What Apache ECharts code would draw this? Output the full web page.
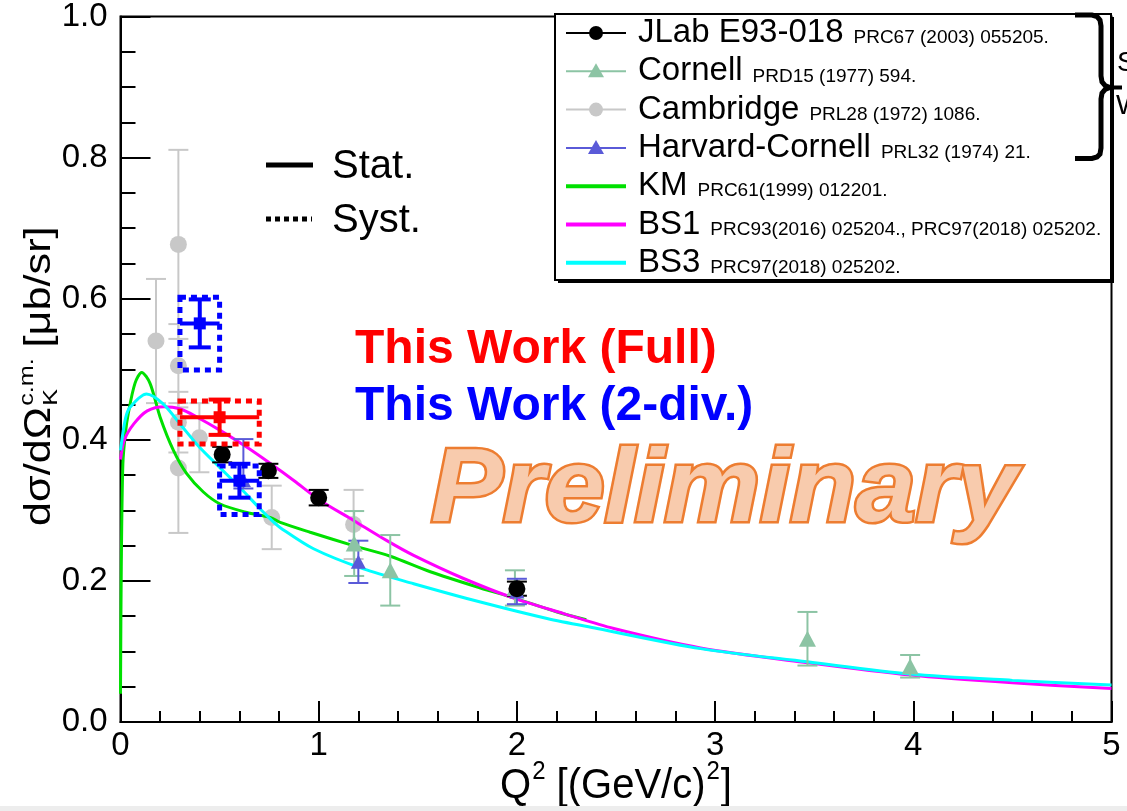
<!DOCTYPE html>
<html>
<head>
<meta charset="utf-8">
<script src="https://cdn.jsdelivr.net/npm/echarts@6/dist/echarts.min.js"></script>
<style>
  html, body { margin: 0; padding: 0; background: #ffffff; }
  #chart { width: 1127px; height: 811px; }
</style>
</head>
<body>
<div id="chart"></div>
<script>
// ---- axis tick labels ----
const xTickLabels = ['0', '1', '2', '3', '4', '5'];
const yTickLabels = ['0.0', '0.2', '0.4', '0.6', '0.8', '1.0'];

// ---- measured cross sections: Q^2, dsigma/dOmega, error up, error down ----
const jlabQ2 = [0.513, 0.746, 1.000, 2.000];
const jlabXs = [0.379, 0.356, 0.318, 0.189];
const jlabErr = [0.011, 0.010, 0.011, 0.010];

const cornellQ2 = [1.179, 1.361, 1.990, 3.466, 3.984];
const cornellXs = [0.253, 0.215, 0.190, 0.118, 0.079];
const cornellErr = [0.046, 0.050, 0.025, 0.038, 0.016];

const cambQ2 = [0.179, 0.292, 0.292, 0.292, 0.292, 0.398, 0.763, 1.176];
const cambXs = [0.540, 0.677, 0.505, 0.425, 0.360, 0.403, 0.290, 0.280];
const cambErr = [0.088, 0.134, 0.059, 0.043, 0.092, 0.049, 0.045, 0.049];

const hcQ2 = [0.620, 1.200, 2.000];
const hcXs = [0.343, 0.227, 0.185];
const hcErrUp = [0.058, 0.030, 0.018];
const hcErrDown = [0.012, 0.030, 0.018];

// ---- this work: Q^2, value, stat(Q^2), stat(y), syst up, syst down, syst half-width in Q^2 ----
const fullQ2 = [0.50];
const fullXs = [0.432];
const fullStatQ2 = [0.20];
const fullStatXs = [0.025];
const fullSysUp = [0.023];
const fullSysDown = [0.038];
const fullSysQ2 = [0.20];

const divQ2 = [0.40, 0.60];
const divXs = [0.565, 0.342];
const divStatQ2 = [0.10, 0.10];
const divStatXs = [0.034, 0.024];
const divSysUp = [0.037, 0.021];
const divSysDown = [0.066, 0.048];
const divSysQ2 = [0.10, 0.10];

// ---- model curves ----
const kmQ2 = [0.000, 0.004, 0.012, 0.025, 0.039, 0.073, 0.107, 0.149, 0.200, 0.267, 0.334, 0.418, 0.503, 0.637, 0.755, 0.806, 0.957, 1.175, 1.361, 1.563, 1.816, 1.984, 2.203, 2.350];
const kmXs = [0.040, 0.220, 0.366, 0.410, 0.437, 0.480, 0.4955, 0.480, 0.432, 0.385, 0.352, 0.326, 0.309, 0.297, 0.290, 0.283, 0.269, 0.250, 0.235, 0.213, 0.190, 0.176, 0.156, 0.145];

const bs1Q2 = [0.000, 0.020, 0.067, 0.135, 0.219, 0.303, 0.387, 0.505, 0.640, 0.758, 0.876, 1.008, 1.176, 1.344, 1.479, 1.731, 1.984, 2.236, 2.489, 2.927, 3.466, 3.984, 4.500, 5.000];
const bs1Xs = [0.372, 0.400, 0.4225, 0.441, 0.447, 0.4436, 0.432, 0.413, 0.389, 0.366, 0.342, 0.314, 0.2857, 0.2571, 0.2362, 0.2034, 0.1756, 0.1537, 0.1325, 0.105, 0.084, 0.0665, 0.0555, 0.0476];

const bs3Q2 = [0.000, 0.025, 0.048, 0.131, 0.215, 0.300, 0.400, 0.500, 0.600, 0.705, 0.770, 0.806, 0.974, 1.226, 1.479, 1.816, 2.152, 2.405, 2.927, 3.466, 3.984, 4.500, 5.000];
const bs3Xs = [0.385, 0.430, 0.446, 0.465, 0.451, 0.4225, 0.389, 0.361, 0.333, 0.302, 0.284, 0.2755, 0.2456, 0.217, 0.196, 0.170, 0.1467, 0.1325, 0.104, 0.0853, 0.068, 0.059, 0.0523];

// ---- legend text ----
const legendNames = ['JLab E93-018', 'Cornell', 'Cambridge', 'Harvard-Cornell', 'KM', 'BS1', 'BS3'];
const legendRefs = ['PRC67 (2003) 055205.', 'PRD15 (1977) 594.', 'PRL28 (1972) 1086.', 'PRL32 (1974) 21.',
                    'PRC61(1999) 012201.', 'PRC93(2016) 025204., PRC97(2018) 025202.', 'PRC97(2018) 025202.'];
const legendMarks = ['circle', 'triangle', 'circle', 'triangle', null, null, null];

const errLabels = ['Stat.', 'Syst.'];
const workLabels = ['This Work (Full)', 'This Work (2-div.)'];
const stampText = 'Preliminary';
const braceLabels = ['S', 'W'];

// ---- styling ----
const SANS = '"Liberation Sans", Arial, Helvetica, sans-serif';
const C_JLAB = '#000000', C_CORNELL = '#8cc4a4', C_CAMB = '#c8c8c8', C_HC = '#5a5ad8';
const C_KM = '#00e000', C_BS1 = '#ff00ff', C_BS3 = '#00ffff';
const C_RED = '#ff0000', C_BLUE = '#0000ff';
const legendColors = [C_JLAB, C_CORNELL, C_CAMB, C_HC, C_KM, C_BS1, C_BS3];

const measureCtx = document.createElement('canvas').getContext('2d');
function textWidth(str, font) { measureCtx.font = font; return measureCtx.measureText(str).width; }

function rows(...cols) { return cols[0].map((_, i) => cols.map(c => c[i])); }
function points(q, v) { return q.map((x, i) => [x, v[i]]); }

// vertical error bar with caps; value dims: q, v, error up, error down
function errorBars(color, cap, width) {
  return function (params, api) {
    const q = api.value(0), v = api.value(1), eu = api.value(2), ed = api.value(3);
    const top = api.coord([q, v + eu]);
    const bot = api.coord([q, v - ed]);
    const x = top[0];
    const st = { stroke: color, lineWidth: width };
    return { type: 'group', children: [
      { type: 'line', shape: { x1: x, y1: top[1], x2: x, y2: bot[1] }, style: st },
      { type: 'line', shape: { x1: x - cap, y1: top[1], x2: x + cap, y2: top[1] }, style: st },
      { type: 'line', shape: { x1: x - cap, y1: bot[1], x2: x + cap, y2: bot[1] }, style: st }
    ] };
  };
}

// point with stat cross and dotted syst box
function thisWork(color) {
  return function (params, api) {
    const q = api.value(0), v = api.value(1), sx = api.value(2), sy = api.value(3);
    const su = api.value(4), sd = api.value(5), bx = api.value(6);
    const c = api.coord([q, v]);
    const bl = api.coord([q - bx, v - sd]);
    const tr = api.coord([q + bx, v + su]);
    const xl = api.coord([q - sx, v])[0], xr = api.coord([q + sx, v])[0];
    const yt = api.coord([q, v + sy])[1], yb = api.coord([q, v - sy])[1];
    const st = { stroke: color, lineWidth: 4 };
    return { type: 'group', children: [
      { type: 'rect', shape: { x: bl[0], y: tr[1], width: tr[0] - bl[0], height: bl[1] - tr[1] },
        style: { fill: 'none', stroke: color, lineWidth: 5, lineDash: [6, 5] } },
      { type: 'line', shape: { x1: xl, y1: c[1], x2: xr, y2: c[1] }, style: st },
      { type: 'line', shape: { x1: c[0], y1: yt, x2: c[0], y2: yb }, style: st },
      { type: 'line', shape: { x1: c[0] - 11, y1: yt, x2: c[0] + 11, y2: yt }, style: st },
      { type: 'line', shape: { x1: c[0] - 11, y1: yb, x2: c[0] + 11, y2: yb }, style: st },
      { type: 'rect', shape: { x: c[0] - 6, y: c[1] - 6, width: 12, height: 12 }, style: { fill: color } }
    ] };
  };
}

function curve(name, q, v, color) {
  return { name, type: 'line', data: points(q, v), showSymbol: false, smooth: 0.3, z: 3,
           lineStyle: { color, width: 3 }, silent: true };
}
function markers(q, v, symbol, size, color) {
  return { type: 'scatter', data: points(q, v), symbol, symbolSize: size, z: 4,
           itemStyle: { color, opacity: 1 }, silent: true };
}
function bars(q, v, eu, ed, color) {
  return { type: 'custom', data: rows(q, v, eu, ed), renderItem: errorBars(color, 10, 2), z: 4, silent: true };
}

// ---- legend box (graphic) ----
const LX = 555, LY = 14, LW = 556, LH = 266;
const legendEls = [
  { type: 'rect', shape: { x: LX + 3, y: LY + 3, width: LW, height: LH }, style: { fill: '#000' }, z: 20 },
  { type: 'rect', shape: { x: LX, y: LY, width: LW, height: LH }, style: { fill: '#fff', stroke: '#000', lineWidth: 2 }, z: 21 }
];
const nameFont = '33px ' + SANS;
const refFont = '19px ' + SANS;
legendNames.forEach((nm, i) => {
  const y = LY + 19 + i * 38.3;
  const col = legendColors[i];
  const mk = legendMarks[i];
  legendEls.push({ type: 'line', shape: { x1: 566, y1: y, x2: 626, y2: y },
                   style: { stroke: col, lineWidth: mk ? 2 : 4 }, z: 22 });
  if (mk === 'circle') {
    legendEls.push({ type: 'circle', shape: { cx: 596, cy: y, r: 7 }, style: { fill: col }, z: 22 });
  } else if (mk === 'triangle') {
    legendEls.push({ type: 'polygon', shape: { points: [[596, y - 8], [588, y + 6], [604, y + 6]] }, style: { fill: col }, z: 22 });
  }
  legendEls.push({ type: 'text', x: 638, y: y, z: 22,
                   style: { text: nm, font: nameFont, fill: '#000', align: 'left', verticalAlign: 'middle' } });
  const w = textWidth(nm, nameFont);
  legendEls.push({ type: 'text', x: 638 + w + 10, y: y + 5, z: 22,
                   style: { text: legendRefs[i], font: refFont, fill: '#000', align: 'left', verticalAlign: 'middle' } });
});

// brace grouping the data sets, with its label running off the edge
legendEls.push({ type: 'polyline', z: 23,
  shape: { points: [[1075, 15], [1092, 15], [1097, 16.5], [1100, 20], [1101, 26], [1101, 76], [1102, 82], [1105, 85.5], [1110, 87.5],
                    [1105, 89.5], [1102, 93], [1101, 99], [1101, 148], [1100, 154], [1097, 157], [1092, 158.5], [1075, 158.5]] },
  style: { fill: 'none', stroke: '#000', lineWidth: 5 } });
legendEls.push({ type: 'line', z: 23, shape: { x1: 1106, y1: 87.5, x2: 1122, y2: 87.5 }, style: { stroke: '#000', lineWidth: 4 } });
legendEls.push({ type: 'text', x: 1117, y: 63, z: 23, style: { text: braceLabels[0], font: '28px ' + SANS, fill: '#000', verticalAlign: 'middle' } });
legendEls.push({ type: 'text', x: 1116, y: 106, z: 23, style: { text: braceLabels[1], font: '28px ' + SANS, fill: '#000', verticalAlign: 'middle' } });

// ---- axis titles built from pieces (sub/superscripts), stretched along the text ----
const ytMain = '36px ' + SANS, ytSmall = '21px ' + SANS;
const yt1 = 'dσ/dΩ', ytSup = 'c.m.', ytSub = 'K', yt2 = '[μb/sr]';
const w1 = textWidth(yt1, ytMain);
const wS = Math.max(textWidth(ytSup, ytSmall), textWidth(ytSub, ytSmall));
const yTitle = { type: 'group', x: 40, y: 526, rotation: Math.PI / 2, scaleX: 1.2, children: [
  { type: 'text', x: 0, y: 0, style: { text: yt1, font: ytMain, fill: '#000', align: 'left', verticalAlign: 'middle' } },
  { type: 'text', x: w1 + 1, y: -13, style: { text: ytSup, font: ytSmall, fill: '#000', align: 'left', verticalAlign: 'middle' } },
  { type: 'text', x: w1 + 1, y: 11, style: { text: ytSub, font: ytSmall, fill: '#000', align: 'left', verticalAlign: 'middle' } },
  { type: 'text', x: w1 + wS + 10, y: 0, style: { text: yt2, font: ytMain, fill: '#000', align: 'left', verticalAlign: 'middle' } }
] };

const xtMain = '40px ' + SANS, xtSmall = '24px ' + SANS;
const xt1 = 'Q', xtSup = '2', xt2 = ' [(GeV/c)', xt3 = ']';
const xw1 = textWidth(xt1, xtMain), xwS = textWidth(xtSup, xtSmall), xw2 = textWidth(xt2, xtMain), xw3 = textWidth(xt3, xtMain);
const xScale = 1.0;
const xTotal = (xw1 + xwS + xw2 + xwS + xw3 + 3) * xScale;
const xTitle = { type: 'group', x: 616 - xTotal / 2, y: 786, scaleX: xScale, scaleY: 1.08, children: [
  { type: 'text', x: 0, y: 0, style: { text: xt1, font: xtMain, fill: '#000', align: 'left', verticalAlign: 'middle' } },
  { type: 'text', x: xw1 + 1, y: -13, style: { text: xtSup, font: xtSmall, fill: '#000', align: 'left', verticalAlign: 'middle' } },
  { type: 'text', x: xw1 + xwS + 1, y: 0, style: { text: xt2, font: xtMain, fill: '#000', align: 'left', verticalAlign: 'middle' } },
  { type: 'text', x: xw1 + xwS + xw2 + 2, y: -13, style: { text: xtSup, font: xtSmall, fill: '#000', align: 'left', verticalAlign: 'middle' } },
  { type: 'text', x: xw1 + 2 * xwS + xw2 + 3, y: 0, style: { text: xt3, font: xtMain, fill: '#000', align: 'left', verticalAlign: 'middle' } }
] };

// ---- stat / syst key and annotations ----
const keyEls = [
  { type: 'line', shape: { x1: 266, y1: 165, x2: 313, y2: 165 }, style: { stroke: '#000', lineWidth: 5 } },
  { type: 'line', shape: { x1: 266, y1: 219, x2: 312, y2: 219 }, style: { stroke: '#000', lineWidth: 5, lineDash: [5, 4] } },
  { type: 'text', x: 332, y: 167, style: { text: errLabels[0], font: '40px ' + SANS, fill: '#000', verticalAlign: 'middle' } },
  { type: 'text', x: 332, y: 221, style: { text: errLabels[1], font: '40px ' + SANS, fill: '#000', verticalAlign: 'middle' } },
  { type: 'text', x: 355, y: 350, style: { text: workLabels[0], font: 'bold 48px ' + SANS, fill: C_RED, verticalAlign: 'middle' } },
  { type: 'text', x: 355, y: 407, style: { text: workLabels[1], font: 'bold 48px ' + SANS, fill: C_BLUE, verticalAlign: 'middle' } },
  { type: 'text', x: 431, y: 492, scaleX: 1.035, z: 10,
    style: { text: stampText, font: 'italic bold 104px ' + SANS, fill: '#f8cbad', stroke: '#ed7d31', lineWidth: 5, verticalAlign: 'middle' } },
  { type: 'rect', shape: { x: 0, y: 806, width: 1127, height: 5 }, style: { fill: '#ededed' } }
];

const chart = echarts.init(document.getElementById('chart'), null, { renderer: 'canvas' });
chart.setOption({
  animation: false,
  backgroundColor: '#ffffff',
  grid: { left: 120.5, right: 15.5, top: 15, bottom: 89, show: true, borderColor: '#000', borderWidth: 2,
          containLabel: false },
  xAxis: {
    type: 'value', min: 0, max: 5, interval: 1,
    axisLine: { show: true, onZero: false, lineStyle: { color: '#000', width: 2 } },
    axisTick: { show: true, inside: true, length: 21, lineStyle: { color: '#000', width: 2 } },
    minorTick: { show: true, splitNumber: 5, length: 11, lineStyle: { color: '#000', width: 2 } },
    splitLine: { show: false },
    axisLabel: { color: '#000', fontFamily: SANS, fontSize: 33, margin: 7,
                 formatter: v => xTickLabels[Math.round(v)] }
  },
  yAxis: {
    type: 'value', min: 0, max: 1, interval: 0.2,
    axisLine: { show: true, onZero: false, lineStyle: { color: '#000', width: 2 } },
    axisTick: { show: true, inside: true, length: 30, lineStyle: { color: '#000', width: 2 } },
    minorTick: { show: true, splitNumber: 4, length: 15, lineStyle: { color: '#000', width: 2 } },
    splitLine: { show: false },
    axisLabel: { color: '#000', fontFamily: SANS, fontSize: 33, margin: 13,
                 formatter: v => yTickLabels[Math.round(v / 0.2)] }
  },
  graphic: { elements: [yTitle, xTitle].concat(keyEls, legendEls) },
  series: [
    Object.assign(bars(cambQ2, cambXs, cambErr, cambErr, C_CAMB), { z: 2 }),
    Object.assign(markers(cambQ2, cambXs, 'circle', 17, C_CAMB), { z: 2 }),
    curve('KM', kmQ2, kmXs, C_KM),
    curve('BS1', bs1Q2, bs1Xs, C_BS1),
    curve('BS3', bs3Q2, bs3Xs, C_BS3),
    bars(cornellQ2, cornellXs, cornellErr, cornellErr, C_CORNELL),
    markers(cornellQ2, cornellXs, 'triangle', [17, 16], C_CORNELL),
    bars(hcQ2, hcXs, hcErrUp, hcErrDown, C_HC),
    markers(hcQ2, hcXs, 'triangle', [15, 14], C_HC),
    bars(jlabQ2, jlabXs, jlabErr, jlabErr, C_JLAB),
    markers(jlabQ2, jlabXs, 'circle', 17, C_JLAB),
    { type: 'custom', z: 5, silent: true,
      data: rows(fullQ2, fullXs, fullStatQ2, fullStatXs, fullSysUp, fullSysDown, fullSysQ2),
      renderItem: thisWork(C_RED) },
    { type: 'custom', z: 5, silent: true,
      data: rows(divQ2, divXs, divStatQ2, divStatXs, divSysUp, divSysDown, divSysQ2),
      renderItem: thisWork(C_BLUE) }
  ]
});
</script>
</body>
</html>
